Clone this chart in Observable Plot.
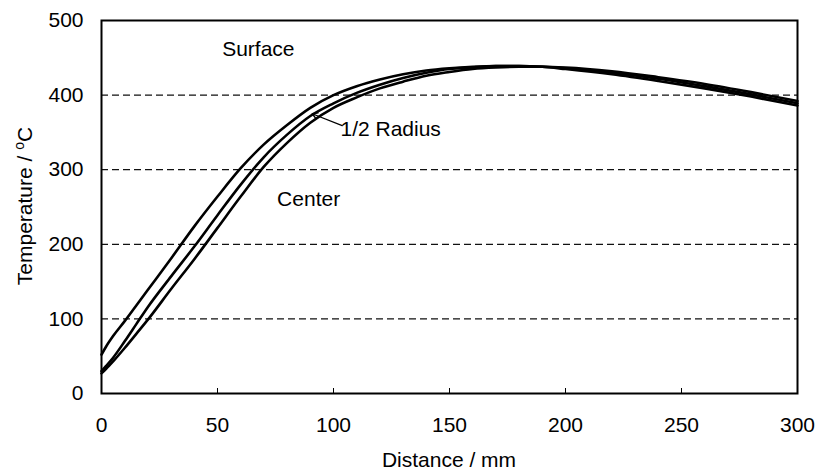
<!DOCTYPE html>
<html><head><meta charset="utf-8">
<script src="https://cdn.jsdelivr.net/npm/d3@7"></script>
<script src="https://cdn.jsdelivr.net/npm/@observablehq/plot@0.6"></script>
<style>body{margin:0;background:#fff} svg{font-family:"Liberation Sans",Arial,sans-serif}</style>
</head><body><div id="chart"></div>
<script>
const distance   = [0, 2, 5, 10, 15, 20, 30, 40, 50, 60, 70, 80, 90, 100, 110, 120, 130, 140, 150, 160, 170, 180, 190, 200, 220, 240, 260, 280, 300];
const surface    = [52, 63, 77, 97, 118, 139, 181, 224, 264, 302, 334, 360, 383, 400, 412, 421, 428, 433, 436, 438, 439, 439, 438, 435, 428, 419, 409, 398, 386];
const halfRadius = [30, 37, 48, 70, 93, 116, 157, 197, 239, 280, 317, 347, 372, 389, 403, 414, 423, 430, 435, 437, 439, 439, 438, 436, 430, 422, 412, 401, 389];
const center     = [27, 33, 43, 61, 80, 99, 140, 180, 222, 264, 304, 336, 363, 383, 397, 409, 418, 426, 431, 435, 437, 438, 438, 437, 432, 424, 415, 404, 392];

const xTicks = [0, 50, 100, 150, 200, 250, 300];
const yTicks = [0, 100, 200, 300, 400, 500];
const gridLines = [100, 200, 300, 400];

const labelText = ["Surface", "1/2 Radius", "Center"];
const labelX = [52, 103, 75.7];
const labelY = [462, 354, 261];

const arrowX1 = [103.75], arrowY1 = [359], arrowX2 = [90.8], arrowY2 = [375];

const rows = [];
distance.forEach((d, i) => {
  rows.push({series: "Surface", x: d, y: surface[i]});
  rows.push({series: "1/2 Radius", x: d, y: halfRadius[i]});
  rows.push({series: "Center", x: d, y: center[i]});
});
const labels = labelText.map((t, i) => ({text: t, x: labelX[i], y: labelY[i]}));
const arrows = arrowX1.map((v, i) => ({x1: v, y1: arrowY1[i], x2: arrowX2[i], y2: arrowY2[i]}));

const plot = Plot.plot({
  width: 817, height: 472,
  marginLeft: 101, marginRight: 20, marginTop: 20, marginBottom: 79,
  style: {fontSize: "21px", fontFamily: "Liberation Sans, Arial, sans-serif", color: "#000", background: "#fff", overflow: "visible"},
  x: {domain: [0, 300], ticks: xTicks, label: null},
  y: {domain: [0, 500], ticks: yTicks, label: null},
  marks: [
    Plot.ruleY(gridLines, {stroke: "#111", strokeWidth: 1.2, strokeDasharray: "7,4"}),
    Plot.line(rows, {x: "x", y: "y", z: "series", curve: "monotone-x", stroke: "#000", strokeWidth: 2.6}),
    Plot.arrow(arrows, {x1: "x1", y1: "y1", x2: "x2", y2: "y2", stroke: "#000", strokeWidth: 1.3, headLength: 7}),
    Plot.text(labels, {x: "x", y: "y", text: "text", textAnchor: "start", lineAnchor: "middle", fontSize: 21, fill: "#000"}),
    Plot.tickX(xTicks.slice(1, -1), {x: d => d, insetTop: 368, stroke: "#000", strokeWidth: 1}),
    Plot.axisX({ticks: xTicks, tickSize: 0, tickPadding: 24, fontSize: 21, label: null}),
    Plot.axisY({ticks: yTicks, tickSize: 0, tickPadding: 18, fontSize: 21, label: null}),
    Plot.frame({stroke: "#000", strokeWidth: 2})
  ]
});

const svg = d3.select(plot);
svg.append("text")
  .attr("x", 449).attr("y", 467)
  .attr("text-anchor", "middle").attr("font-size", 21).attr("fill", "#000")
  .text("Distance / mm");
const yl = svg.append("text")
  .attr("transform", "translate(32,206) rotate(-90)")
  .attr("text-anchor", "middle").attr("font-size", 21).attr("fill", "#000");
yl.append("tspan").text("Temperature / ");
yl.append("tspan").attr("font-size", 14).attr("dy", -8).text("o");
yl.append("tspan").attr("dy", 8).text("C");

document.getElementById("chart").appendChild(plot);
</script>
</body></html>
